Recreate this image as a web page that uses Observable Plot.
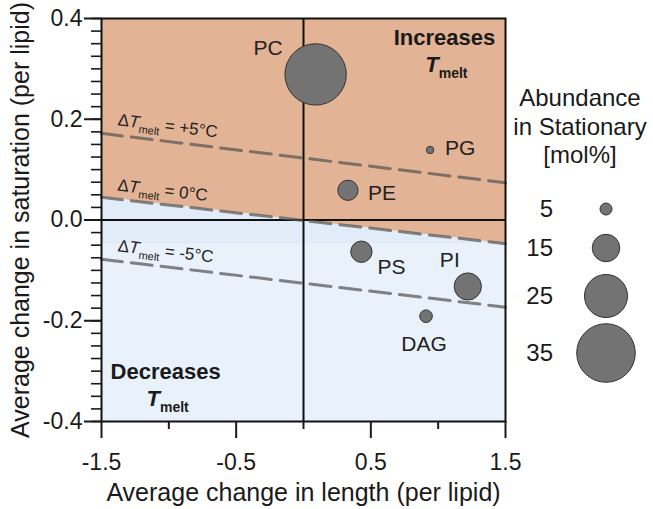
<!DOCTYPE html>
<html><head><meta charset="utf-8">
<script src="https://cdn.jsdelivr.net/npm/d3@7"></script>
<script src="https://cdn.jsdelivr.net/npm/@observablehq/plot@0.6"></script>
<style>
body{margin:0;background:#fff;}
#chart{width:653px;height:509px;}
</style></head><body><div id="chart"></div>
<script>
// ---- data ----
const lipids = ["PC", "PG", "PE", "PS", "PI", "DAG"];
const lengthChange = [0.09, 0.94, 0.33, 0.43, 1.22, 0.91];
const saturationChange = [0.289, 0.139, 0.059, -0.063, -0.132, -0.191];
const abundance = [36.8, 2.0, 10.3, 11.0, 14.8, 5.4];
const legendValues = [5, 15, 25, 35];
const isoLabels = ["+5°C", "0°C", "-5°C"];
const isoX = [-1.5, 1.5];
const isoY = [[0.172, 0.074], [0.045, -0.047], [-0.078, -0.173]];
const bandLow = -0.047;
const xMajor = [-1.5, -0.5, 0.5, 1.5];
const xMinor = [-1, 0, 1];
const yMajor = [-0.4, -0.2, 0, 0.2, 0.4];
const yMinor = d3.range(-16, 17).map(i => i * 0.025);

const points = lipids.map((name, i) => ({name, x: lengthChange[i], y: saturationChange[i], a: abundance[i]}));
const isoLines = isoLabels.flatMap((lab, k) => isoX.map((x, i) => ({k, x, y: isoY[k][i]})));
const zeroLine = isoX.map((x, i) => ({x, y: isoY[1][i]}));

const labelPlacement = {
  PC: {anchor: "end", dx: -33, dy: -26},
  PG: {anchor: "start", dx: 15, dy: -2},
  PE: {anchor: "start", dx: 20, dy: 3},
  PS: {anchor: "start", dx: 16, dy: 16},
  PI: {anchor: "middle", dx: -18, dy: -26},
  DAG: {anchor: "middle", dx: -2, dy: 28}
};

const ORANGE = "#e2b394", BLUE = "#e2ecf8", BLUE2 = "#e9f1fb";

const plot = Plot.plot({
  width: 653, height: 509,
  marginLeft: 101, marginRight: 148, marginTop: 18, marginBottom: 88,
  style: {fontFamily: "'Liberation Sans', Arial, sans-serif", background: "#fff", color: "#1a1a1a"},
  x: {domain: [-1.5, 1.5], label: null},
  y: {domain: [-0.4, 0.4], label: null},
  r: {type: "linear", domain: [5, 35], range: [6, 29.3]},
  marks: [
    Plot.areaY(zeroLine, {x: "x", y1: "y", y2: 0.4, fill: ORANGE}),
    Plot.areaY(zeroLine, {x: "x", y1: -0.4, y2: "y", fill: BLUE}),
    Plot.rect([0], {x1: -1.5, x2: 1.5, y1: -0.4, y2: bandLow, fill: BLUE2}),
    Plot.ruleX([0], {stroke: "#111", strokeWidth: 2}),
    Plot.ruleY([0], {stroke: "#111", strokeWidth: 2}),
    Plot.line(isoLines, {x: "x", y: "y", z: "k", stroke: "#555", strokeOpacity: 0.72, strokeWidth: 3, strokeDasharray: "21,9"}),
    Plot.dot(points, {x: "x", y: "y", r: "a", fill: "#737373", stroke: "#333", strokeWidth: 1}),
    ...lipids.map(name => Plot.text(points.filter(d => d.name === name), {
      x: "x", y: "y", text: "name", textAnchor: labelPlacement[name].anchor,
      dx: labelPlacement[name].dx, dy: labelPlacement[name].dy, fontSize: 21, fill: "#222"
    })),
    Plot.frame({stroke: "#111", strokeWidth: 2}),
    Plot.axisX({ticks: xMinor, tickSize: 8, tickFormat: () => "", label: null, strokeWidth: 2}),
    Plot.axisX({ticks: xMajor, tickSize: 17, tickPadding: 15, tickFormat: d => String(d), fontSize: 23, label: null, strokeWidth: 2}),
    Plot.axisY({ticks: yMinor, tickSize: 10, tickFormat: () => "", label: null, strokeWidth: 1.6}),
    Plot.axisY({ticks: yMajor, tickSize: 17, tickPadding: 2, tickFormat: d => d.toFixed(1), fontSize: 23, label: null, strokeWidth: 2}),
    Plot.text(["Average change in saturation (per lipid)"], {frameAnchor: "left", dx: -81, rotate: -90, textAnchor: "middle", lineAnchor: "middle", text: d => d, fontSize: 25, fill: "#1a1a1a"}),
    Plot.text(["Average change in length (per lipid)"], {frameAnchor: "bottom", dy: 71, textAnchor: "middle", lineAnchor: "middle", text: d => d, fontSize: 25, fill: "#1a1a1a"})
  ]
});

document.getElementById("chart").appendChild(plot);

// ---- annotations drawn with the plot's scales ----
const sx = plot.scale("x"), sy = plot.scale("y"), sr = plot.scale("r");
const svg = d3.select(plot);

// isotherm labels
const labelX = -1.388;
isoLabels.forEach((lab, k) => {
  const x0 = sx.apply(isoX[0]), x1 = sx.apply(isoX[1]);
  const y0 = sy.apply(isoY[k][0]), y1 = sy.apply(isoY[k][1]);
  const t = (labelX - isoX[0]) / (isoX[1] - isoX[0]);
  const px = x0 + t * (x1 - x0), py = y0 + t * (y1 - y0);
  const ang = Math.atan2(y1 - y0, x1 - x0) * 180 / Math.PI;
  const g = svg.append("g").attr("transform", `translate(${px},${py}) rotate(${ang})`);
  const txt = g.append("text").attr("x", 0).attr("y", k === 1 ? -8 : -9.5)
    .attr("text-anchor", "start").attr("font-size", 17).attr("fill", "#222");
  txt.append("tspan").text("Δ");
  txt.append("tspan").attr("font-style", "italic").text("T");
  txt.append("tspan").attr("font-size", 11).attr("dy", 5).text("melt");
  txt.append("tspan").attr("dy", -5).text(" = " + lab);
});

// region labels
function regionLabel(word, cx, by) {
  const X = sx.apply(cx), Y = sy.apply(by);
  svg.append("text").attr("x", X).attr("y", Y).attr("text-anchor", "middle")
    .attr("font-size", 22).attr("font-weight", "bold").attr("fill", "#1a1a1a").text(word);
  const t2 = svg.append("text").attr("x", X + 2).attr("y", Y + 27).attr("text-anchor", "middle")
    .attr("font-weight", "bold").attr("fill", "#1a1a1a");
  t2.append("tspan").attr("font-size", 22).attr("font-style", "italic").text("T");
  t2.append("tspan").attr("font-size", 14).attr("dy", 6).text("melt");
}
regionLabel("Increases", 1.05, 0.346);
regionLabel("Decreases", -1.02, -0.316);

// size legend
const lg = svg.append("g");
["Abundance", "in Stationary", "[mol%]"].forEach((s, i) => {
  lg.append("text").attr("x", 580).attr("y", 98 + i * 28.5).attr("dy", "0.35em")
    .attr("text-anchor", "middle").attr("font-size", 24).attr("fill", "#1a1a1a").text(s);
});
const legendY = [209, 248, 296, 353];
legendValues.forEach((v, i) => {
  lg.append("circle").attr("cx", 606).attr("cy", legendY[i]).attr("r", sr.apply(v))
    .attr("fill", "#737373").attr("stroke", "#333").attr("stroke-width", 1);
  lg.append("text").attr("x", 553).attr("y", legendY[i]).attr("dy", "0.35em")
    .attr("text-anchor", "end").attr("font-size", 24).attr("fill", "#1a1a1a").text(v);
});
</script>
</body></html>
